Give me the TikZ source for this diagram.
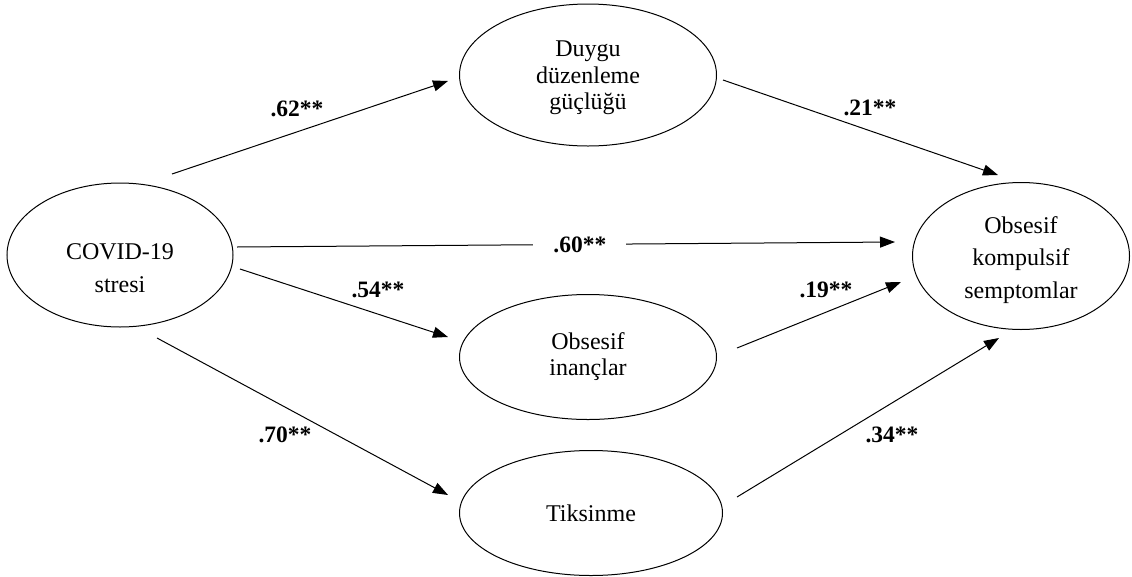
\documentclass[tikz,border=0pt]{standalone}
\usepackage{fontspec}
\setmainfont{Liberation Serif}
\usetikzlibrary{shapes.geometric,arrows.meta}
\begin{document}
\begin{tikzpicture}[x=1pt,y=-1pt,
  ell/.style={draw, ellipse, inner sep=0pt, line width=1pt, align=center},
  lab/.style={font=\bfseries\fontsize{23.5}{27}\selectfont, inner sep=0pt},
  arr/.style={line width=1pt, -{Triangle[length=15pt,width=11pt]}}]
\useasboundingbox (0,0) rectangle (1132,576);
% latent variables
\node[ell, minimum width=226pt, minimum height=144pt,
      font=\fontsize{24}{33}\selectfont] (covid) at (120,255) {\rule{0pt}{42pt}COVID-19\\stresi};
\node[ell, minimum width=257pt, minimum height=142pt,
      font=\fontsize{24}{26.5}\selectfont] (duygu) at (588,75) {\rule{0pt}{22pt}Duygu\\düzenleme\\güçlüğü};
\node[ell, minimum width=217pt, minimum height=147pt,
      font=\fontsize{24}{32.5}\selectfont] (oks) at (1021,256) {\rule{0pt}{24.5pt}Obsesif\\kompulsif\\semptomlar};
\node[ell, minimum width=257pt, minimum height=125pt,
      font=\fontsize{24}{26}\selectfont] (inanc) at (588,357) {Obsesif\\inançlar};
\node[ell, minimum width=263pt, minimum height=125pt,
      font=\fontsize{24}{26}\selectfont] (tiks) at (591,513) {Tiksinme};
% connector end points
\coordinate (s1) at (172,174); \coordinate (e1) at (448,81);
\coordinate (s2) at (723,80);  \coordinate (e2) at (998,175);
\coordinate (s3) at (237,247); \coordinate (e3) at (895,242);
\coordinate (s4) at (240,269); \coordinate (e4) at (448,337);
\coordinate (s5) at (157,338); \coordinate (e5) at (448,495);
\coordinate (s6) at (737,348); \coordinate (e6) at (901,282);
\coordinate (s7) at (737,497); \coordinate (e7) at (999,338);
% connectors
\draw[arr] (s1) -- (e1);
\draw[arr] (s2) -- (e2);
\draw[arr] (s3) -- node[pos=0.521, lab, fill=white, inner xsep=20pt, inner ysep=4pt] (l60) {.60**} (e3);
\draw[arr] (s4) -- (e4);
\draw[arr] (s5) -- (e5);
\draw[arr] (s6) -- (e6);
\draw[arr] (s7) -- (e7);
% path coefficients
\node[lab] (l62) at (297,109) {.62**};
\node[lab] (l21) at (870,108) {.21**};
\node[lab] (l54) at (378,290) {.54**};
\node[lab] (l19) at (826,290) {.19**};
\node[lab] (l70) at (285,435) {.70**};
\node[lab] (l34) at (892,435) {.34**};
\end{tikzpicture}
\end{document}
